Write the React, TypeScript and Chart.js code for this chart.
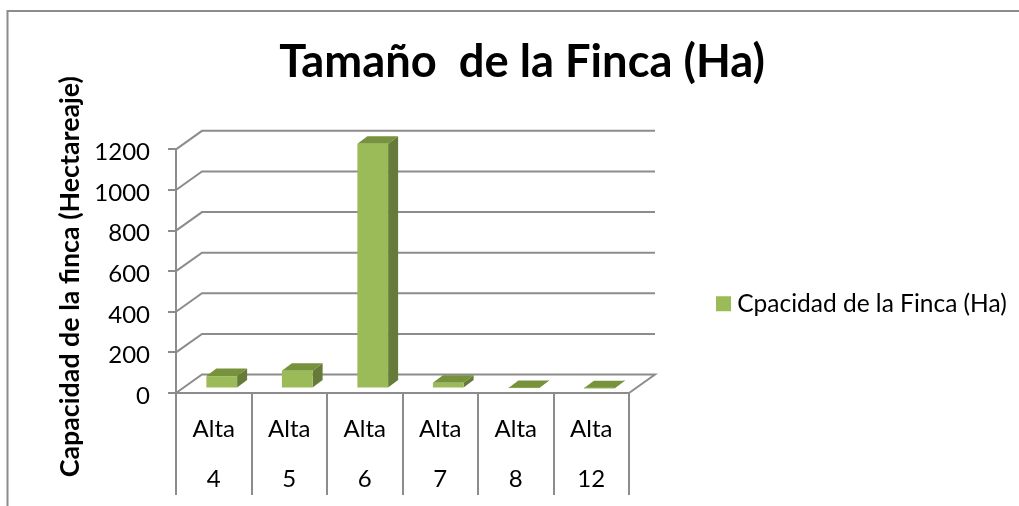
import React, { useEffect, useRef } from "react";
import { Chart, registerables } from "chart.js";

Chart.register(...registerables);

const categories = [["Alta", "4"], ["Alta", "5"], ["Alta", "6"], ["Alta", "7"], ["Alta", "8"], ["Alta", "12"]];
const capacity = [61, 88, 1205, 28, 2, 1];
const seriesName = "Cpacidad de la Finca (Ha)";
const chartTitle = "Tamaño  de la Finca (Ha)";
const yTitle = "Capacidad de la finca (Hectareaje)";
const yMax = 1200;
const yStep = 200;

const FONT = "Lato";
const GREY = "#8c8c8c";
const LINE = 2;
const FRONT = "#9bbb59";
const SIDE = "#667a39";
const TOP = "#76923c";

const WALL_DX = 26;
const WALL_DY = 18.5;
const BAR_DX = 8;
const BAR_DY = 4.5;
const DEPTH_DX = 10;
const DEPTH_DY = 7.5;

const threeD = {
  id: "threeD",
  beforeLayout(chart: any) {
    const l = chart.legend;
    if (l && !l.__patched) {
      const f = l.fit;
      l.fit = function () {
        f.call(this);
        this.width = 390;
      };
      l.__patched = true;
    }
  },
  afterLayout(chart: any) {
    const l = chart.legend;
    l.left = 712;
    l.right = 1019;
    l.top = 281.5;
    l.bottom = 326;
    chart.titleBlock.left = 25;
  },
  beforeDraw(chart: any) {
    const c = chart.ctx;
    c.save();
    c.strokeStyle = GREY;
    c.lineWidth = LINE;
    c.beginPath();
    c.moveTo(7.5, 506);
    c.lineTo(7.5, 11);
    c.lineTo(1019, 11);
    c.stroke();
    c.restore();
  },
  beforeDatasetsDraw(chart: any) {
    const c = chart.ctx;
    const { left, right } = chart.chartArea;
    const y = chart.scales.y;
    c.save();
    c.strokeStyle = GREY;
    c.lineWidth = LINE;
    for (const t of y.ticks) {
      const py = y.getPixelForValue(t.value);
      c.beginPath();
      c.moveTo(left, py);
      c.lineTo(left + WALL_DX, py - WALL_DY);
      c.lineTo(right + WALL_DX, py - WALL_DY);
      if (t.value === 0) c.lineTo(right, py);
      c.stroke();
    }
    c.restore();
  },
  beforeDatasetDraw(chart: any, args: any) {
    const c = chart.ctx;
    c.save();
    c.translate(BAR_DX, -BAR_DY);
    for (const b of chart.getDatasetMeta(args.index).data) {
      const x0 = b.x - b.width / 2;
      const x1 = b.x + b.width / 2;
      c.fillStyle = SIDE;
      c.beginPath();
      c.moveTo(x1, b.y);
      c.lineTo(x1 + DEPTH_DX, b.y - DEPTH_DY);
      c.lineTo(x1 + DEPTH_DX, b.base - DEPTH_DY);
      c.lineTo(x1, b.base);
      c.closePath();
      c.fill();
      c.fillStyle = TOP;
      c.beginPath();
      c.moveTo(x0, b.y);
      c.lineTo(x0 + DEPTH_DX, b.y - DEPTH_DY);
      c.lineTo(x1 + DEPTH_DX, b.y - DEPTH_DY);
      c.lineTo(x1, b.y);
      c.closePath();
      c.fill();
    }
  },
  afterDatasetDraw(chart: any) {
    chart.ctx.restore();
  },
};

export default function App() {
  const ref = useRef<HTMLCanvasElement>(null);
  useEffect(() => {
    const chart = new Chart(ref.current!, {
      type: "bar",
      data: {
        labels: categories,
        datasets: [
          {
            label: seriesName,
            data: capacity,
            backgroundColor: FRONT,
            barPercentage: 0.407,
            categoryPercentage: 1,
            clip: false,
          } as any,
        ],
      },
      plugins: [threeD],
      options: {
        animation: false,
        responsive: false,
        layout: { padding: 0 },
        plugins: {
          tooltip: { enabled: false },
          title: {
            display: true,
            text: chartTitle,
            color: "#000",
            font: { family: FONT, size: 45.3, weight: "bold", lineHeight: 1.2 },
            padding: { top: 35, bottom: 60 },
          },
          legend: {
            position: "right",
            align: "start",
            labels: {
              color: "#000",
              font: { family: FONT, size: 24.5 },
              boxWidth: 3,
              boxHeight: 3,
              padding: 10,
              generateLabels: () => [
                { text: seriesName, fillStyle: FRONT, strokeStyle: FRONT, lineWidth: 12, datasetIndex: 0 },
              ],
            },
          },
        },
        scales: {
          x: {
            offset: true,
            afterFit(s: any) {
              s.height = 113;
            },
            border: { color: GREY, width: LINE },
            grid: {
              offset: true,
              drawOnChartArea: false,
              drawTicks: true,
              tickLength: 102,
              color: GREY,
              lineWidth: LINE,
            },
            ticks: {
              autoSkip: false,
              maxRotation: 0,
              padding: -91,
              color: "#000",
              font: { family: FONT, size: 24, lineHeight: 50 / 24 },
            },
          },
          y: {
            min: 0,
            max: yMax,
            afterFit(s: any) {
              s.width = 176;
              if (!s.__patched) {
                const title = s.drawTitle;
                s.drawTitle = function () {
                  const c = this.ctx;
                  c.save();
                  c.translate(0, 5.5);
                  title.call(this);
                  c.restore();
                };
                const labels = s.drawLabels;
                s.drawLabels = function (area: any) {
                  const c = this.ctx;
                  c.save();
                  c.translate(0, 3);
                  labels.call(this, area);
                  c.restore();
                };
                s.__patched = true;
              }
            },
            border: { color: GREY, width: LINE },
            grid: {
              drawOnChartArea: false,
              tickLength: 8,
              color: GREY,
              lineWidth: LINE,
            },
            title: {
              display: true,
              text: yTitle,
              color: "#000",
              font: { family: FONT, size: 26.8, weight: "bold" },
              padding: { top: 54, bottom: 0 },
            },
            ticks: {
              stepSize: yStep,
              padding: 18,
              color: "#000",
              font: { family: FONT, size: 24 },
              callback: (v: any) => String(v),
            },
          },
        },
      },
    });
    return () => chart.destroy();
  }, []);
  return (
    <div style={{ position: "fixed", left: 0, top: 0, width: 1019, height: 506, background: "#fff" }}>
      <canvas ref={ref} width={1019} height={506} style={{ display: "block" }} />
    </div>
  );
}
